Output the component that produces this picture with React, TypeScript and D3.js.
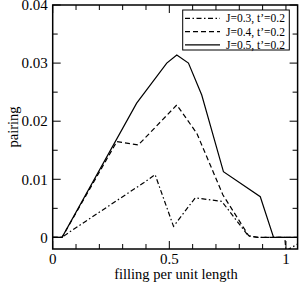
import * as React from 'react';
import * as d3 from 'd3';

// J=0.3, t'=0.2 (dash-dot)
const fillA = [0, 0.04, 0.075, 0.39, 0.439, 0.518, 0.611, 0.725, 0.84, 0.88, 0.995, 1.0, 1.1];
const pairA = [0, 0, 0.001, 0.0094, 0.0108, 0.0019, 0.0068, 0.0062, 0.0002, 0, 0, -0.0023, 0];
// J=0.4, t'=0.2 (dashed)
const fillB = [0, 0.04, 0.275, 0.367, 0.532, 0.618, 0.73, 0.84, 0.88, 1.0, 1.05];
const pairB = [0, 0, 0.0165, 0.0159, 0.0228, 0.0179, 0.0073, 0.0003, 0, 0, 0];
// J=0.5, t'=0.2 (solid)
const fillC = [0, 0.04, 0.36, 0.489, 0.532, 0.582, 0.639, 0.732, 0.89, 0.947, 1.0, 1.05];
const pairC = [0, 0, 0.0231, 0.03, 0.0314, 0.03, 0.0245, 0.0113, 0.007, 0, 0, 0];

const legendLabels = ['J=0.3, t\u2019=0.2', 'J=0.4, t\u2019=0.2', 'J=0.5, t\u2019=0.2'];
const xMajor = [0, 0.5, 1];
const yMajor = [0, 0.01, 0.02, 0.03, 0.04];

const width = 299;
const height = 285;
const font = "'Liberation Serif', 'Times New Roman', serif";

export default function App() {
  const x = d3.scaleLinear().domain([0, 1.05]).range([52.7, 297.6]);
  const y = d3.scaleLinear().domain([-0.002, 0.04]).range([249, 5]);

  const line = d3
    .line<[number, number]>()
    .x(d => x(d[0]))
    .y(d => y(d[1]));

  const series = [
    { xs: fillA, ys: pairA, dash: '5,2.5,1.5,2.5' },
    { xs: fillB, ys: pairB, dash: '5,3' },
    { xs: fillC, ys: pairC, dash: '' },
  ];

  const xMinor = d3.range(0.1, 1.05, 0.1).filter(v => Math.abs(v - 0.5) > 0.01 && Math.abs(v - 1) > 0.01);
  const yMinor = d3.range(0, 0.04, 0.005).filter(v => Math.abs(v / 0.01 - Math.round(v / 0.01)) > 0.1);

  const [x0, x1] = x.range();
  const [y0, y1] = y.range();

  return (
    <div style={{ position: 'fixed', left: 0, top: 0 }}>
      <svg width={width} height={height} style={{ display: 'block', background: '#fff' }}>
        <defs>
          <clipPath id="plot">
            <rect x={x0} y={y1} width={x1 - x0} height={y0 - y1} />
          </clipPath>
        </defs>

        <g clipPath="url(#plot)" fill="none" stroke="#000" strokeWidth={1.2}>
          {series.map((s, i) => (
            <path
              key={i}
              d={line(s.xs.map((v, j) => [v, s.ys[j]] as [number, number])) || ''}
              strokeDasharray={s.dash || undefined}
            />
          ))}
        </g>

        {/* ticks, inward on all four sides */}
        <g stroke="#000" strokeWidth={1}>
          {xMajor.map(v => (
            <g key={'xM' + v}>
              <line x1={x(v)} x2={x(v)} y1={y0} y2={y0 - 8} />
              <line x1={x(v)} x2={x(v)} y1={y1} y2={y1 + 8} />
            </g>
          ))}
          {xMinor.map(v => (
            <g key={'xm' + v}>
              <line x1={x(v)} x2={x(v)} y1={y0} y2={y0 - 5} />
              <line x1={x(v)} x2={x(v)} y1={y1} y2={y1 + 5} />
            </g>
          ))}
          {yMajor.map(v => (
            <g key={'yM' + v}>
              <line x1={x0} x2={x0 + 8} y1={y(v)} y2={y(v)} />
              <line x1={x1} x2={x1 - 8} y1={y(v)} y2={y(v)} />
            </g>
          ))}
          {yMinor.map(v => (
            <g key={'ym' + v}>
              <line x1={x0} x2={x0 + 5} y1={y(v)} y2={y(v)} />
              <line x1={x1} x2={x1 - 5} y1={y(v)} y2={y(v)} />
            </g>
          ))}
        </g>

        <rect x={x0} y={y1} width={x1 - x0} height={y0 - y1} fill="none" stroke="#000" strokeWidth={1.5} />

        <g style={{ fontFamily: font }} fontSize={15} fill="#000">
          {yMajor.map(v => (
            <text key={'yl' + v} x={x0 - 5} y={y(v)} dy="0.35em" textAnchor="end">
              {v === 0 ? '0' : v.toFixed(2)}
            </text>
          ))}
          {xMajor.map(v => (
            <text key={'xl' + v} x={x(v)} y={y0 + 15} textAnchor="middle">
              {v === 0.5 ? '0.5' : String(v)}
            </text>
          ))}
          <text x={176} y={279} textAnchor="middle" fontSize={14.5}>
            filling per unit length
          </text>
          <text
            transform={`translate(18,${(y0 + y1) / 2}) rotate(-90)`}
            textAnchor="middle"
            fontSize={14.5}
          >
            pairing
          </text>
        </g>

        {/* legend */}
        <g style={{ fontFamily: font }}>
          <rect x={182.7} y={10} width={106.6} height={40} fill="#fff" stroke="#000" strokeWidth={1} />
          {legendLabels.map((label, i) => (
            <g key={label}>
              <line
                x1={185}
                x2={220}
                y1={18.3 + i * 13.3}
                y2={18.3 + i * 13.3}
                stroke="#000"
                strokeWidth={1.2}
                strokeDasharray={series[i].dash || undefined}
              />
              <text x={226} y={18.3 + i * 13.3} dy="0.35em" fontSize={11.5} fill="#000">
                {label}
              </text>
            </g>
          ))}
        </g>
      </svg>
    </div>
  );
}
